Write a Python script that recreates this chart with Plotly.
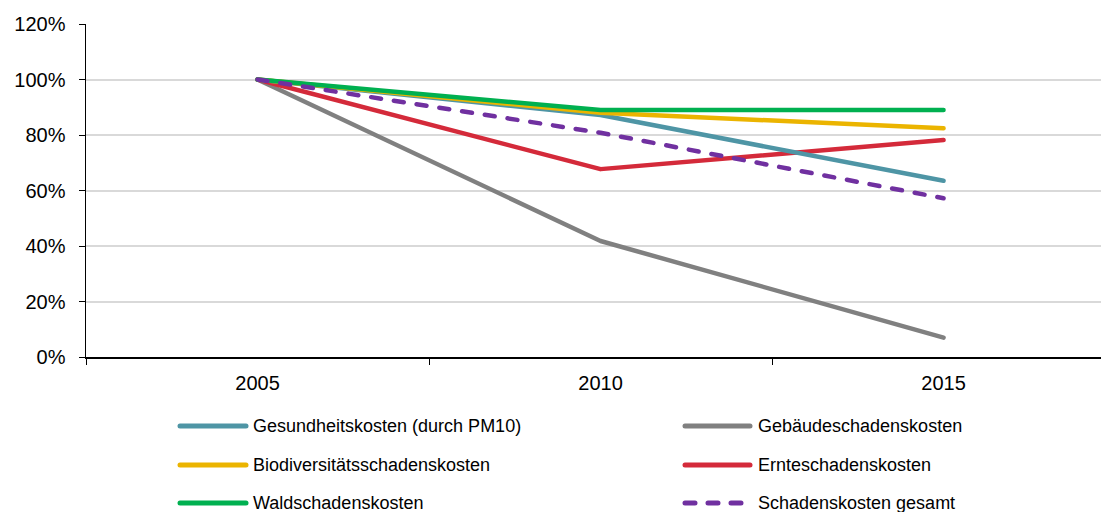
import plotly.graph_objects as go

years = ["2005", "2010", "2015"]
series_names = [
    "Gesundheitskosten (durch PM10)",
    "Gebäudeschadenskosten",
    "Biodiversitätsschadenskosten",
    "Ernteschadenskosten",
    "Waldschadenskosten",
    "Schadenskosten gesamt",
]
gesundheit = [1.00, 0.872, 0.635]
gebaeude = [1.00, 0.418, 0.070]
biodiv = [1.00, 0.880, 0.824]
ernte = [1.00, 0.677, 0.782]
wald = [1.00, 0.890, 0.890]
gesamt = [1.00, 0.808, 0.572]
y_ticks = [0, 0.2, 0.4, 0.6, 0.8, 1.0, 1.2]
y_tick_labels = ["0%", "20%", "40%", "60%", "80%", "100%", "120%"]

values = [gesundheit, gebaeude, biodiv, ernte, wald, gesamt]
colors = ["#4E95A5", "#808080", "#EBB400", "#D42A3A", "#00B050", "#7030A0"]
dashes = ["solid", "solid", "solid", "solid", "solid", "10px,13px"]
order = [1, 3, 0, 2, 4, 5]

fig = go.Figure()
for i in order:
    fig.add_trace(go.Scatter(
        x=years, y=values[i], mode="lines", name=series_names[i],
        line=dict(color=colors[i], width=4.5, dash=dashes[i]),
        showlegend=False, hoverinfo="skip",
    ))

FONT = "Liberation Sans, Arial, sans-serif"

L, R, T, B = 86, 1101, 24, 357
def px(x):
    return (x - L) / (R - L)
def py(y):
    return (B - y) / (B - T)

rows = [426, 465, 503]
sym_cols = [(180, 246), (685, 750)]
txt_cols = [253, 758]
for k, name in enumerate(series_names):
    r, c = k // 2, k % 2
    x0, x1 = sym_cols[c]
    fig.add_shape(type="line", xref="paper", yref="paper",
                  x0=px(x0), x1=px(x1), y0=py(rows[r]), y1=py(rows[r]),
                  line=dict(color=colors[k], width=5,
                            dash=("10px,13px" if k == 5 else "solid")))
    fig.add_annotation(xref="paper", yref="paper", x=px(txt_cols[c]), y=py(rows[r]),
                       text=name, showarrow=False, xanchor="left", yanchor="middle",
                       xshift=-2, font=dict(family=FONT, size=18, color="#000000"))

fig.update_layout(
    width=1102, height=512,
    margin=dict(l=86, r=1, t=24, b=155),
    paper_bgcolor="white", plot_bgcolor="white",
    showlegend=False,
    font=dict(family=FONT, size=20, color="#000000"),
    xaxis=dict(
        type="category", range=[-0.5, 2.459],
        showline=True, linecolor="#000000", linewidth=1.5,
        ticks="outside", ticklen=6, tickcolor="#000000", tickwidth=1,
        tickson="boundaries", showgrid=False, zeroline=False,
        tickfont=dict(family=FONT, size=20), ticklabelstandoff=7,
    ),
    yaxis=dict(
        range=[0, 1.2], tickvals=y_ticks, ticktext=y_tick_labels,
        showline=True, linecolor="#000000", linewidth=1.5,
        ticks="outside", ticklen=6, tickcolor="#000000",
        showgrid=True, gridcolor="#D9D9D9", gridwidth=2,
        zeroline=False, tickfont=dict(family=FONT, size=20), ticklabelstandoff=9,
    ),
)

fig.write_html("out.html", config={"displayModeBar": False, "staticPlot": True})
with open("out.html", "r", encoding="utf-8") as f:
    html = f.read()
css = ("<style>html,body{margin:0;padding:0;overflow:hidden}"
       ".js-line,.shapelayer path{stroke-linecap:round;stroke-linejoin:round}</style>")
html = html.replace("<head>", "<head>" + css, 1)
with open("out.html", "w", encoding="utf-8") as f:
    f.write(html)
